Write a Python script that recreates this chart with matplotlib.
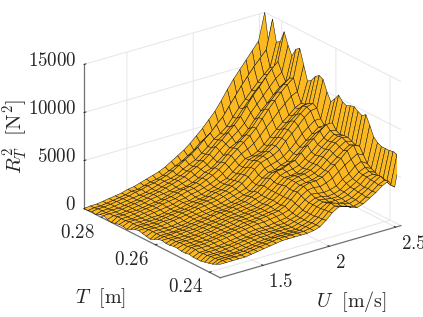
import numpy as np
import matplotlib
matplotlib.use('Agg')
import matplotlib.pyplot as plt
from matplotlib.transforms import ScaledTranslation

plt.rcParams['mathtext.fontset'] = 'cm'
plt.rcParams['font.family'] = 'cmr10'
plt.rcParams['axes.formatter.use_mathtext'] = True

u_min, u_max = 1.177, 2.54
t_max, t_min = 0.2863, 0.236
n_u, n_t = 30, 36
u_values = np.linspace(u_min, u_max, n_u)
t_values = np.linspace(t_max, t_min, n_t)

# Force values in hundreds of N^2; one row per T, from largest T to smallest
r_hundreds = [
[0,1,1,2,3,4,5,7,8,10,12,14,16,19,23,27,31,36,42,48,55,62,71,81,90,98,106,114,122,150],
[0,1,1,2,3,4,5,7,7,9,11,12,14,17,20,23,27,31,37,41,45,51,58,66,73,80,86,93,100,120],
[1,2,2,3,4,5,6,8,9,11,12,14,16,19,23,27,31,36,42,47,54,60,69,78,87,95,103,110,117,147],
[0,2,2,3,4,5,6,7,8,10,12,14,15,17,21,24,27,32,37,43,47,52,60,68,75,82,89,95,101,125],
[2,2,3,3,4,5,6,8,9,10,12,14,16,18,21,24,28,33,38,44,48,54,61,69,76,84,90,97,103,128],
[3,3,3,4,5,6,7,8,10,11,13,15,17,19,23,26,30,35,41,46,52,58,65,74,83,90,98,105,111,140],
[1,3,3,4,5,6,7,9,10,11,12,14,16,18,21,25,28,33,39,44,49,54,60,69,76,83,90,97,102,128],
[0,4,4,5,5,6,7,8,9,11,13,14,15,17,20,24,26,31,36,42,45,50,56,64,71,77,84,90,94,119],
[1,4,4,5,6,7,8,9,11,12,14,16,17,19,22,25,29,33,39,44,49,54,60,68,75,82,89,95,100,128],
[2,4,4,5,6,7,8,10,11,12,14,16,17,19,22,25,29,34,40,45,50,55,61,69,77,84,91,97,102,131],
[2,5,5,5,6,7,8,9,10,12,13,15,16,18,20,23,27,32,37,42,45,49,55,62,68,75,81,87,90,116],
[1,5,5,5,6,6,7,9,10,12,12,14,15,17,19,22,24,29,34,39,40,43,48,54,60,66,71,77,80,101],
[3,5,5,6,6,7,8,9,10,12,13,14,15,18,19,22,25,29,34,40,42,44,49,55,62,67,73,78,81,104],
[5,6,6,6,7,8,9,10,11,12,14,15,17,19,20,23,26,31,36,41,44,47,52,58,65,71,76,83,84,110],
[6,6,6,7,8,8,9,11,12,13,15,16,17,19,21,24,27,32,38,43,46,49,53,59,66,73,79,84,86,113],
[5,7,7,7,8,9,10,11,12,14,15,16,17,19,21,23,27,32,38,43,45,47,51,58,64,70,77,82,83,111],
[4,7,7,7,7,8,9,11,12,13,14,15,16,18,20,22,24,29,34,39,41,43,46,51,57,64,69,74,74,100],
[3,7,7,7,8,8,9,11,12,13,14,15,16,17,19,21,23,28,33,37,38,41,43,49,54,59,64,69,69,92],
[5,7,7,7,8,9,10,11,12,13,15,15,16,18,19,22,25,29,35,39,40,42,45,50,56,62,67,70,71,97],
[7,8,8,9,9,10,11,12,13,15,16,16,18,19,20,23,26,31,37,42,43,46,48,54,60,65,71,76,76,103],
[8,8,8,9,10,10,11,12,13,14,16,17,18,19,20,23,25,30,35,40,42,43,45,50,55,61,66,72,70,98],
[7,9,9,9,10,11,12,13,14,15,16,17,18,19,20,22,25,30,35,40,40,41,44,49,54,60,65,70,68,96],
[7,9,9,10,10,11,12,13,14,16,17,17,18,19,20,22,25,30,36,41,42,42,45,49,55,60,66,70,69,98],
[8,10,10,10,11,12,12,14,15,16,17,18,19,20,21,23,26,30,37,41,43,44,46,50,56,62,67,71,69,99],
[8,10,10,10,11,12,13,14,15,16,18,18,19,20,21,23,25,30,36,41,42,43,45,49,55,60,65,69,67,96],
[7,10,10,11,11,12,13,14,15,16,18,18,19,20,21,22,25,30,36,40,41,42,44,48,53,58,63,67,65,94],
[7,11,11,11,12,13,14,15,16,17,18,19,20,21,22,23,26,31,37,41,43,43,45,49,54,59,65,69,66,97],
[8,11,11,11,12,13,14,15,16,17,18,19,19,20,21,22,24,29,35,39,40,39,41,44,49,54,58,62,59,88],
[7,10,10,11,11,12,13,14,15,16,17,17,17,18,19,20,23,28,33,37,36,35,36,38,43,47,53,56,52,78],
[7,11,11,11,12,12,13,14,15,16,17,17,17,18,18,20,22,26,32,35,35,33,34,36,41,44,49,52,49,74],
[7,11,11,11,12,13,14,15,16,17,17,17,17,18,18,20,22,26,32,35,34,33,33,36,39,43,48,50,47,72],
[8,12,12,12,12,13,14,15,16,17,17,18,18,18,18,20,22,26,32,35,33,33,33,35,39,42,48,49,45,72],
[9,12,12,12,12,13,14,15,16,17,17,18,18,18,18,20,22,26,32,36,34,32,32,34,38,41,47,50,44,72],
[10,13,13,13,14,14,15,16,17,18,19,19,19,19,19,21,23,27,33,38,36,34,32,34,38,42,47,51,44,73],
[12,14,14,14,14,15,16,17,18,19,20,20,20,20,20,21,23,27,33,37,35,33,31,33,37,41,46,49,42,72],
[14,14,14,14,14,15,16,17,18,19,20,20,20,20,20,21,23,28,34,38,37,34,32,34,38,42,47,50,42,74],
]

u_ticks = [1.5, 2, 2.5]
t_ticks = [0.24, 0.26, 0.28]
z_ticks = [0, 5000, 10000, 15000]

W, H = 423, 317
fig = plt.figure(figsize=(W / 100, H / 100), dpi=100)
ax = fig.add_axes([79.7 / W, 9.2 / H, 317 / W, 1], projection='3d', proj_type='ortho')
ax.view_init(elev=22.5, azim=-127)
ax.set_box_aspect((1, 1, 0.69), zoom=1.09)

U, T = np.meshgrid(u_values, t_values)
Z = np.array(r_hundreds, dtype=float) * 100
ax.plot_surface(U, T, Z, rstride=1, cstride=1, color='#FBB81F', shade=False,
                edgecolor='#111111', linewidth=0.35, antialiased=True)

ax.set_xlim(u_min, u_max)
ax.set_ylim(t_min, t_max)
ax.set_zlim(0, 15000)
ax.set_xticks(u_ticks)
ax.set_xticklabels(['$1.5$', '$2$', '$2.5$'])
ax.set_yticks(t_ticks)
ax.set_yticklabels(['$0.24$', '$0.26$', '$0.28$'])
ax.set_zticks(z_ticks)
ax.set_zticklabels(['$0$', '$5000$', '$10000$', '$15000$'])

for axis in (ax.xaxis, ax.yaxis, ax.zaxis):
    axis.set_pane_color((1, 1, 1, 0))
    axis.pane.set_edgecolor((1, 1, 1, 0))
    axis.line.set_color('#707070')
    axis.line.set_linewidth(0.9)
    axis._axinfo['grid']['color'] = '#e6e6e6'
    axis._axinfo['grid']['linewidth'] = 0.7
    axis._axinfo['tick']['inward_factor'] = 0.0
    axis._axinfo['tick']['outward_factor'] = 0.12
    axis._axinfo['tick']['linewidth'] = {True: 0.7, False: 0.5}
    axis._axinfo['tick']['color'] = '#707070'
ax.tick_params(axis='both', labelsize=13.6, colors='#262626')
ax.tick_params(axis='x', pad=-2.5)
ax.tick_params(axis='y', pad=-3)
ax.tick_params(axis='z', pad=-5)


def nudge(lab, dx_px, dy_px):
    lab.set_transform(ax.transData + ScaledTranslation(dx_px / 100, dy_px / 100, fig.dpi_scale_trans))
    lab.set_transform = lambda transform: None  # keep the offset when Axis3D resets transforms


for lab in ax.get_xticklabels():
    lab.set_ha('left')
    lab.set_va('top')
    nudge(lab, -1, 2)
for lab in ax.get_yticklabels():
    lab.set_ha('right')
    lab.set_va('top')
    nudge(lab, 1, 2)
for lab in ax.get_zticklabels():
    lab.set_ha('right')
    lab.set_va('bottom')
    nudge(lab, 0, -6)

fig.text(15 / W, 1 - 136 / H, r'$R_T^2\ \ \mathrm{[N^2]}$', rotation=90, fontsize=15,
         color='#262626', ha='center', va='center')
fig.text(101 / W, 1 - 298 / H, r'$T\ \ \mathrm{[m]}$', fontsize=14.5,
         color='#262626', ha='center', va='center')
fig.text(352 / W, 1 - 302 / H, r'$U\ \ \mathrm{[m/s]}$', fontsize=14.5,
         color='#262626', ha='center', va='center')

fig.savefig('out.png', dpi=100)
